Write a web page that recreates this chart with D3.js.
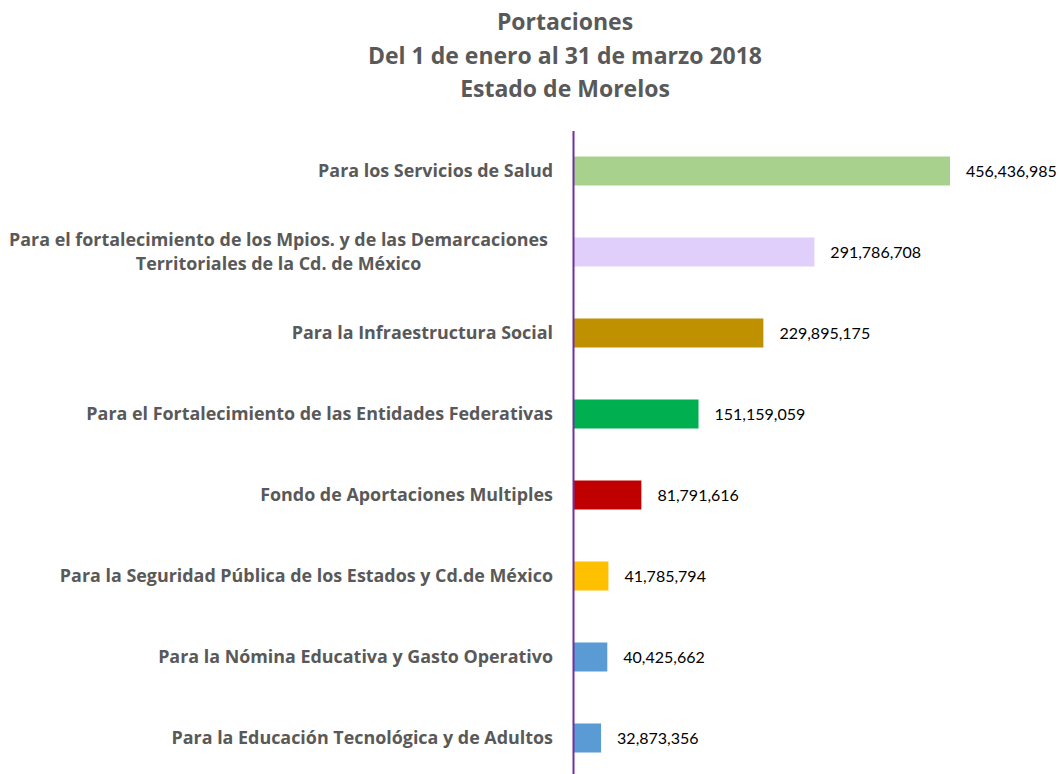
<!DOCTYPE html>
<html>
<head>
<meta charset="utf-8">
<script src="https://cdn.jsdelivr.net/npm/d3@7"></script>
<style>
  body { margin: 0; background: #fff; }
  #chart { width: 1060px; height: 774px; }
</style>
</head>
<body>
<div id="chart"></div>
<script>
const titleLines = ["Portaciones", "Del 1 de enero al 31 de marzo 2018", "Estado de Morelos"];

const categories = [
    "Para los Servicios de Salud",
    "Para el fortalecimiento de los Mpios. y de las Demarcaciones\nTerritoriales de la Cd. de México",
    "Para la Infraestructura Social",
    "Para el Fortalecimiento de las Entidades Federativas",
    "Fondo de Aportaciones Multiples",
    "Para la Seguridad Pública de los Estados y Cd.de México",
    "Para la Nómina Educativa y Gasto Operativo",
    "Para la Educación Tecnológica y de Adultos"
];
const values = [456436985, 291786708, 229895175, 151159059, 81791616, 41785794, 40425662, 32873356];
const colors = ["#A9D18E", "#E0CFFA", "#BF9000", "#00B050", "#C00000", "#FFC000", "#5B9BD5", "#5B9BD5"];

const width = 1060, height = 774;
const svg = d3.select("#chart").append("svg")
    .attr("width", width)
    .attr("height", height);

// title
svg.append("text")
    .attr("text-anchor", "middle")
    .style("font-family", "'Open Sans', sans-serif")
    .style("font-weight", "bold")
    .style("font-size", "23px")
    .style("fill", "#595959")
    .selectAll("tspan")
    .data(titleLines)
    .enter()
    .append("tspan")
    .attr("x", 565)
    .attr("y", (d, i) => 30 + i * 33.5)
    .text(d => d);

const x = d3.scaleLinear()
    .domain([0, d3.max(values)])
    .range([574, 950]);

const y = d3.scaleBand()
    .domain(categories)
    .range([130.5, 778.5])
    .paddingInner(0.642)
    .paddingOuter(0.321);

const data = categories.map((c, i) => ({ cat: c, value: values[i], color: colors[i] }));

svg.selectAll("rect.bar")
    .data(data)
    .enter()
    .append("rect")
    .attr("class", "bar")
    .attr("x", x(0))
    .attr("y", d => y(d.cat))
    .attr("width", d => x(d.value) - x(0))
    .attr("height", y.bandwidth())
    .attr("fill", d => d.color);

// vertical axis line
const axis = svg.append("g")
    .attr("transform", "translate(573,0)")
    .call(d3.axisLeft(y).tickSize(0).tickFormat(""));
axis.select(".domain")
    .attr("stroke", "#7030A0")
    .attr("stroke-width", 2);

// category labels, wrapped lines centred inside a right-aligned block
const labelRight = 553;
data.forEach(d => {
    const lines = d.cat.split("\n");
    const cy = y(d.cat) + y.bandwidth() / 2;
    const g = svg.append("text")
        .style("font-family", "'Open Sans', sans-serif")
        .style("font-weight", "bold")
        .style("font-size", "17.9px")
        .style("fill", "#595959");
    const tspans = lines.map((line, i) => g.append("tspan")
        .attr("y", cy + 6 + (i - (lines.length - 1) / 2) * 24)
        .text(line));
    if (lines.length === 1) {
        g.attr("text-anchor", "end");
        tspans[0].attr("x", labelRight);
    } else {
        const w = d3.max(tspans, t => t.node().getComputedTextLength());
        g.attr("text-anchor", "middle");
        tspans.forEach(t => t.attr("x", labelRight - 5 - w / 2));
    }
});

// value labels
svg.selectAll("text.val")
    .data(data)
    .enter()
    .append("text")
    .attr("class", "val")
    .attr("x", d => x(d.value) + 16)
    .attr("y", d => y(d.cat) + y.bandwidth() / 2 + 6)
    .style("font-family", "Lato, sans-serif")
    .style("font-size", "16px")
    .style("fill", "#000")
    .text(d => d3.format(",")(d.value));
</script>
</body>
</html>
